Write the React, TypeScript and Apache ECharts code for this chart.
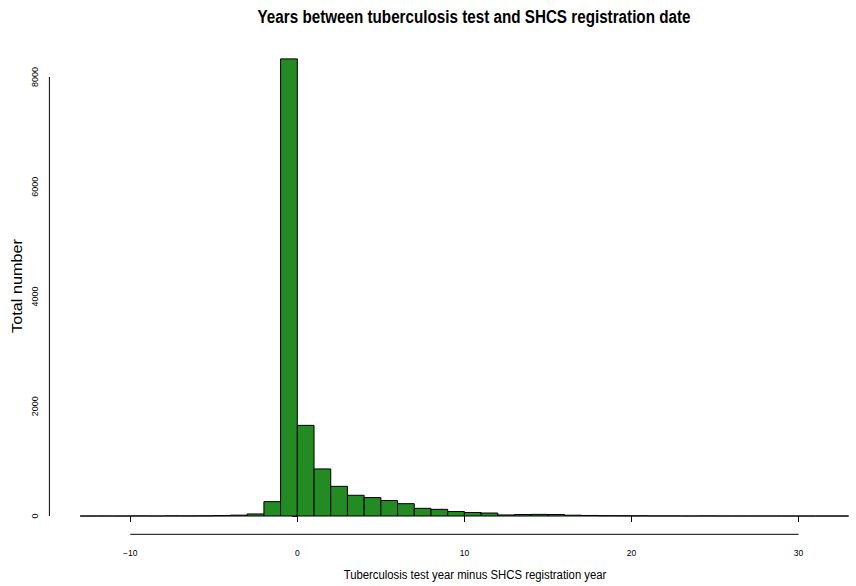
import React, { useEffect, useRef } from "react";
import * as echarts from "echarts";

// Histogram bins: each bin covers [start, start + BIN_WIDTH)
const BIN_WIDTH = 1;
const binStarts = [
  -13, -12, -11, -10, -9, -8, -7, -6, -5, -4, -3, -2, -1, 0, 1, 2, 3, 4, 5, 6, 7, 8,
  9, 10, 11, 12, 13, 14, 15, 16, 17, 18, 19, 20, 21, 22, 23, 24, 25, 26, 27, 28, 29,
  30, 31, 32,
];
const counts = [
  0, 1, 0, 2, 1, 3, 2, 4, 8, 16, 38, 262, 8330, 1652, 858, 541, 378, 336, 282, 225,
  140, 122, 82, 64, 55, 20, 28, 30, 28, 15, 10, 6, 5, 4, 2, 2, 1, 2, 1, 1, 1, 1, 0, 0,
  0, 0,
];

const xTicks = [-10, 0, 10, 20, 30];
const yTicks = [0, 2000, 4000, 6000, 8000];

const titleText = "Years between tuberculosis test and SHCS registration date";
const xTitle = "Tuberculosis test year minus SHCS registration year";
const yTitle = "Total number";

// Plot region limits (data range padded like base R graphics)
const X_MIN = -14.84;
const X_MAX = 33.44;
const Y_MIN = -333;
const Y_MAX = 8663;

const SANS = '"Liberation Sans", Arial, Helvetica, sans-serif';

export default function App() {
  const ref = useRef<HTMLDivElement>(null);

  useEffect(() => {
    if (!ref.current) return;
    const chart = echarts.init(ref.current, undefined, { renderer: "svg" });

    const bins = binStarts.map((s, i) => [s, s + BIN_WIDTH, counts[i]]);

    chart.setOption({
      animation: false,
      backgroundColor: "#ffffff",
      grid: {
        left: 49.4,
        right: 0,
        top: 40.6,
        bottom: 51.7,
        containLabel: false,
        outerBoundsMode: "none",
      },
      xAxis: {
        type: "value",
        min: X_MIN,
        max: X_MAX,
        axisLine: { show: false },
        splitLine: { show: false },
        axisTick: {
          show: true,
          customValues: xTicks,
          length: 6,
          lineStyle: { color: "#000", width: 1 },
        },
        axisLabel: {
          customValues: xTicks,
          margin: 14,
          fontSize: 8.5,
          fontFamily: SANS,
          color: "#000",
          formatter: (v: number) => String(v).replace("-", "\u2212"),
        },
      },
      yAxis: {
        type: "value",
        min: Y_MIN,
        max: Y_MAX,
        axisLine: { show: false },
        splitLine: { show: false },
        axisTick: {
          show: true,
          customValues: yTicks,
          length: 5,
          lineStyle: { color: "#000", width: 1 },
        },
        axisLabel: {
          customValues: yTicks,
          rotate: 90,
          margin: 10,
          fontSize: 9,
          fontFamily: SANS,
          color: "#000",
          formatter: (v: number) => String(v),
        },
      },
      graphic: [
        {
          // Condensed bold heading
          type: "text",
          x: 474,
          y: 17,
          scaleX: 0.87,
          style: {
            text: titleText,
            fontFamily: SANS,
            fontWeight: "bold",
            fontSize: 17.5,
            fill: "#000",
            textAlign: "center",
            textVerticalAlign: "middle",
          },
        },
        {
          type: "text",
          x: 475,
          y: 575,
          scaleX: 0.84,
          style: {
            text: xTitle,
            fontFamily: SANS,
            fontSize: 13.5,
            fill: "#000",
            textAlign: "center",
            textVerticalAlign: "middle",
          },
        },
        {
          // Vertical axis title, slightly stretched along its length
          type: "text",
          x: 17,
          y: 286,
          rotation: Math.PI / 2,
          scaleX: 1.12,
          style: {
            text: yTitle,
            fontFamily: SANS,
            fontSize: 14.5,
            fill: "#000",
            textAlign: "center",
            textVerticalAlign: "middle",
          },
        },
      ],
      series: [
        {
          type: "custom",
          name: "counts",
          data: bins,
          encode: { x: [0, 1], y: 2 },
          renderItem: (_params: any, api: any) => {
            const start = api.value(0);
            const end = api.value(1);
            const count = api.value(2);
            const p0 = api.coord([start, 0]);
            const p1 = api.coord([end, count]);
            return {
              type: "rect",
              shape: {
                x: p0[0],
                y: p1[1],
                width: p1[0] - p0[0],
                height: p0[1] - p1[1],
              },
              style: { fill: "#228B22", stroke: "#000", lineWidth: 1 },
            };
          },
        },
        {
          // Axis lines spanning only the first to last tick, as in base R plots
          type: "custom",
          name: "axes",
          data: [[xTicks[0], yTicks[0]]],
          silent: true,
          renderItem: (_params: any, api: any) => {
            const xa = api.coord([xTicks[0], Y_MIN]);
            const xb = api.coord([xTicks[xTicks.length - 1], Y_MIN]);
            const ya = api.coord([X_MIN, yTicks[0]]);
            const yb = api.coord([X_MIN, yTicks[yTicks.length - 1]]);
            return {
              type: "group",
              children: [
                {
                  type: "line",
                  shape: { x1: xa[0], y1: xa[1], x2: xb[0], y2: xb[1] },
                  style: { stroke: "#000", lineWidth: 1 },
                },
                {
                  type: "line",
                  shape: { x1: ya[0], y1: ya[1], x2: yb[0], y2: yb[1] },
                  style: { stroke: "#000", lineWidth: 1 },
                },
              ],
            };
          },
        },
      ],
    });

    return () => chart.dispose();
  }, []);

  return (
    <div
      ref={ref}
      style={{ position: "fixed", left: 0, top: 0, width: 856, height: 586 }}
    />
  );
}
